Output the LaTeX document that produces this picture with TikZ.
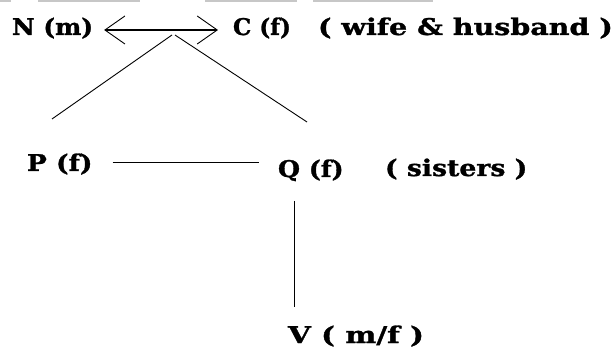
\documentclass[tikz,border=0pt]{standalone}
\usepackage{fontspec}
\setmainfont{DejaVu Serif}[BoldFeatures={FakeBold=1.2}]
\usetikzlibrary{arrows.meta}
\begin{document}
\begin{tikzpicture}[x=1pt,y=-1pt,
  lbl/.style={inner sep=0pt, outer sep=0pt, anchor=base west, font=\fontsize{23}{26}\selectfont\bfseries},
  conn/.style={line width=0.9pt, black},
  barb/.tip={Straight Barb[length=20pt,width=28pt,line width=0.9pt]},
  topbar/.style={fill=black!22, draw=none}]
\useasboundingbox (0,0) rectangle (615,352);
\fill[topbar] (0,0) rectangle (11,2.5);
\fill[topbar] (38,0) rectangle (140,2.5);
\fill[topbar] (205,0) rectangle (297,2.5);
\fill[topbar] (313,0) rectangle (433,2.5);
\node[lbl] (N) at (12,35) {\scalebox{1.08}[1]{N (m)}};
\node[lbl] (C) at (233,35) {\scalebox{1.0}[1]{C (f)}};
\node[lbl] (WH) at (318,35) {\scalebox{1.24}[1]{( wife \& husband )}};
\node[lbl] (P) at (27,171) {\scalebox{1.15}[1]{P (f)}};
\node[lbl] (Q) at (278,177) {\scalebox{1.1}[1]{Q (f)}};
\node[lbl] (S) at (385,176) {\scalebox{1.16}[1]{( sisters )}};
\node[lbl] (V) at (288,343) {\scalebox{1.28}[1]{V ( m/f )}};
% marriage arrow
\draw[conn, line width=1.5pt, {barb}-{barb}] ([xshift=11pt]N.east |- 0,30) -- ([xshift=-15pt]C.west |- 0,30);
\coordinate (apexL) at (172,35);
\coordinate (apexR) at (175,35);
\coordinate (pend) at (52,119);
\coordinate (qend) at (307,122);
\draw[conn] (apexL) -- (pend);
\draw[conn] (apexR) -- (qend);
% sisters line
\draw[conn] ([xshift=20pt]P.east |- 0,162) -- ([xshift=-19pt]Q.west |- 0,162);
% child line
\coordinate (vx) at (294,0);
\draw[conn] (vx |- 0,201) -- (vx |- 0,307);
\end{tikzpicture}
\end{document}
